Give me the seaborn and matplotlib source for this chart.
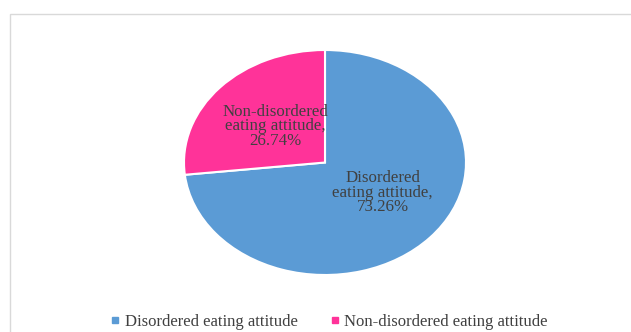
import matplotlib
matplotlib.use("Agg")
import matplotlib.pyplot as plt
import seaborn as sns
from matplotlib.lines import Line2D
from matplotlib.patches import Rectangle

categories = ["Disordered eating attitude", "Non-disordered eating attitude"]
values = [73.26, 26.74]
label_texts = ["Disordered\neating attitude,\n73.26%", "Non-disordered\neating attitude,\n26.74%"]
colors = ["#5B9BD5", "#FF3399"]

sns.set_theme(style="white")
plt.rcParams["font.family"] = ["Liberation Serif", "DejaVu Serif"]
palette = sns.color_palette(colors)

fig = plt.figure(figsize=(6.31, 3.32), dpi=100)
fig.patch.set_facecolor("white")

# outer chart frame
fig.patches.append(Rectangle((10 / 631, -0.2), 1.2, (332 - 14) / 332 + 0.2,
                             transform=fig.transFigure, fill=False,
                             edgecolor="#D9D9D9", linewidth=1.0))

ax = fig.add_axes([184 / 631, (332 - 275) / 332, 282 / 631, 225 / 332])
wedges, _ = ax.pie(values, colors=palette, startangle=90, counterclock=False,
                   wedgeprops=dict(edgecolor="white", linewidth=1.5))
ax.set_aspect("auto")
ax.set_xlim(-1.0, 1.0)
ax.set_ylim(-1.0, 1.0)
ax.axis("off")

# data labels (positions relative to the pie)
label_pos = [(0.41, -0.27), (-0.355, 0.32)]
for (x, y), t in zip(label_pos, label_texts):
    ax.text(x, y, t, ha="center", va="center", fontsize=12.2,
            color="#404040", linespacing=0.88)

handles = [Line2D([0], [0], marker="s", linestyle="none", markersize=4,
                  markerfacecolor=c, markeredgecolor=c) for c in palette]
fig.legend(handles, categories, loc="center", bbox_to_anchor=(0.522, 0.03),
           ncol=2, frameon=False, fontsize=12.0, labelcolor="#404040",
           handlelength=0.5, handletextpad=0.3, columnspacing=2.0)

fig.savefig("out.png", dpi=100, facecolor="white")
